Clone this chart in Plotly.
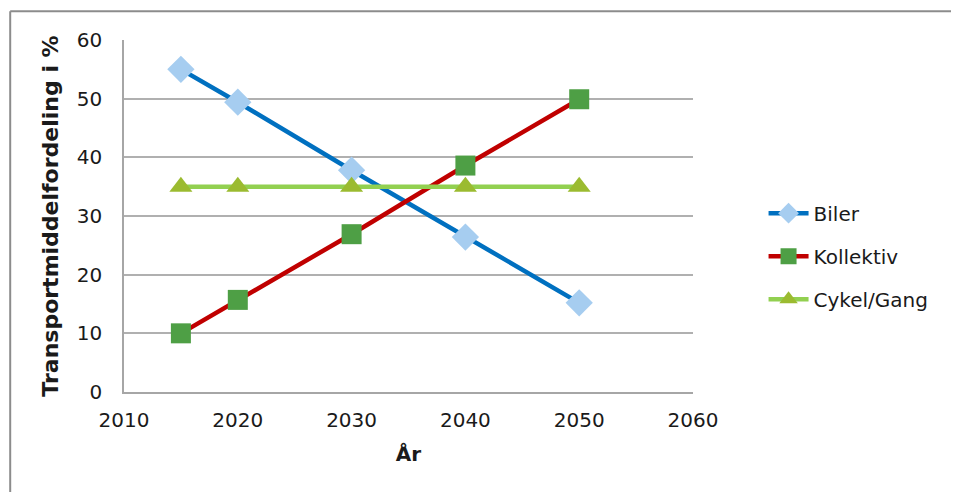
import plotly.graph_objects as go

# data
years = [2015, 2020, 2030, 2040, 2050]
biler = [55, 49.4, 37.8, 26.4, 15.2]
kollektiv = [10, 15.7, 26.9, 38.6, 49.9]
cykel_gang = [35, 35, 35, 35, 35]

series = [
    ("Biler", biler, "#0070C0", "#A6CDF0", "diamond", 21),
    ("Kollektiv", kollektiv, "#C00000", "#4E9F45", "square", 20),
    ("Cykel/Gang", cykel_gang, "#92D050", "#9BBB30", "triangle-up", 20),
]

font = "DejaVu Sans, Verdana, sans-serif"

fig = go.Figure()
for name, vals, line_col, mark_col, sym, size in series:
    fig.add_trace(go.Scatter(
        x=years, y=vals, name=name, mode="lines+markers",
        line=dict(color=line_col, width=4.5),
        marker=dict(symbol=sym, size=size, color=mark_col),
        legendgroup=name,
    ))

# page has an 8px body offset, margins account for it
fig.update_layout(
    width=959, height=492,
    margin=dict(l=116, r=274, t=32, b=108),
    paper_bgcolor="white", plot_bgcolor="white",
    font=dict(family=font, size=20, color="#1a1a1a"),
    showlegend=True,
    legend=dict(
        x=1.124, y=0.386, xanchor="left", yanchor="middle",
        traceorder="grouped", tracegroupgap=14,
        font=dict(size=20), itemwidth=40,
    ),
    shapes=[
        dict(type="line", xref="paper", yref="paper",
             x0=-0.2, x1=1.5, y0=1.082, y1=1.082,
             line=dict(color="#8c8c8c", width=2)),
        dict(type="line", xref="paper", yref="paper",
             x0=-0.2, x1=-0.2, y0=1.082, y1=-0.33,
             line=dict(color="#8c8c8c", width=2)),
    ],
)
fig.update_xaxes(
    range=[2010, 2060], dtick=10, showgrid=False,
    showline=True, linecolor="#a6a6a6", linewidth=1.5,
    ticks="", ticklabelstandoff=9,
    title=dict(text="<b>År</b>", standoff=16, font=dict(size=20)),
)
fig.update_yaxes(
    range=[0, 60], dtick=10, showgrid=True, gridcolor="#b0b0b0", gridwidth=1.5,
    showline=True, linecolor="#a6a6a6", linewidth=1.5,
    ticks="", ticklabelstandoff=16,
    title=dict(text="<b>Transportmiddelfordeling i %</b>", standoff=12, font=dict(size=22)),
)

fig.write_html("out.html")
